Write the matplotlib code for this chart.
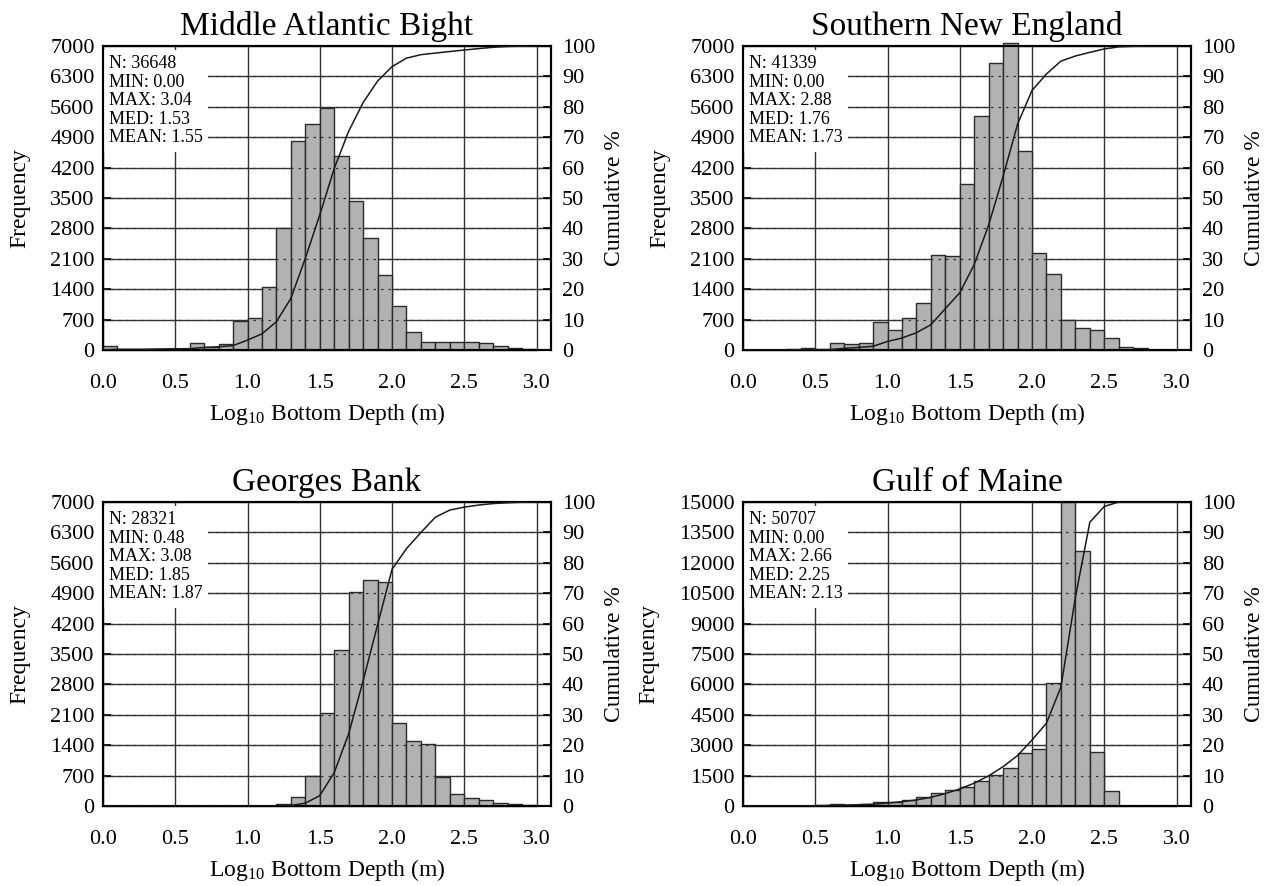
import numpy as np
import matplotlib
matplotlib.use('Agg')
import matplotlib.pyplot as plt

plt.rcParams['font.family'] = 'serif'
plt.rcParams['font.serif'] = ['Liberation Serif', 'DejaVu Serif']
plt.rcParams['mathtext.fontset'] = 'custom'
plt.rcParams['mathtext.rm'] = 'Liberation Serif'
plt.rcParams['mathtext.it'] = 'Liberation Serif:italic'

# bin left edges (log10 bottom depth), width 0.1
bin_starts = [0.0, 0.1, 0.2, 0.3, 0.4, 0.5, 0.6, 0.7, 0.8, 0.9,
              1.0, 1.1, 1.2, 1.3, 1.4, 1.5, 1.6, 1.7, 1.8, 1.9,
              2.0, 2.1, 2.2, 2.3, 2.4, 2.5, 2.6, 2.7, 2.8, 2.9]
bin_width = 0.1

# counts
mab_counts = [90, 0, 0, 30, 30, 10, 150, 75, 140, 670,
              745, 1460, 2800, 4820, 5215, 5575, 4475, 3440, 2590, 1730,
              1020, 420, 190, 190, 175, 175, 155, 100, 40, 15]
sne_counts = [10, 0, 0, 15, 40, 0, 155, 130, 155, 655,
              460, 730, 1075, 2190, 2155, 3830, 5385, 6600, 7075, 4575,
              2230, 1745, 690, 500, 460, 285, 75, 40, 0, 0]
gb_counts = [0, 0, 0, 0, 0, 0, 0, 0, 0, 0,
             0, 10, 40, 215, 700, 2140, 3600, 4930, 5200, 5160,
             1920, 1500, 1420, 660, 275, 190, 140, 75, 55, 15]
gom_counts = [10, 0, 0, 10, 20, 40, 80, 50, 80, 215,
              215, 300, 430, 625, 790, 955, 1235, 1530, 1860, 2600,
              2820, 6065, 15000, 12575, 2640, 740, 0, 0, 0, 0]

titles = ['Middle Atlantic Bight', 'Southern New England', 'Georges Bank', 'Gulf of Maine']
stats = ['N: 36648\nMIN: 0.00\nMAX: 3.04\nMED: 1.53\nMEAN: 1.55',
         'N: 41339\nMIN: 0.00\nMAX: 2.88\nMED: 1.76\nMEAN: 1.73',
         'N: 28321\nMIN: 0.48\nMAX: 3.08\nMED: 1.85\nMEAN: 1.87',
         'N: 50707\nMIN: 0.00\nMAX: 2.66\nMED: 2.25\nMEAN: 2.13']
freq_ticks = [list(range(0, 7001, 700)), list(range(0, 7001, 700)),
              list(range(0, 7001, 700)), list(range(0, 15001, 1500))]
cum_ticks = list(range(0, 101, 10))
x_ticks = [0.0, 0.5, 1.0, 1.5, 2.0, 2.5, 3.0]
all_counts = [mab_counts, sne_counts, gb_counts, gom_counts]

W, H = 1272, 886
fig = plt.figure(figsize=(W / 100, H / 100), dpi=100)

# panel boxes in pixels: left, top
boxes = [(103, 46), (743, 46), (103, 502), (743, 502)]
pw, ph = 448, 304

for i in range(4):
    left, top = boxes[i]
    ax = fig.add_axes([left / W, (H - top - ph) / H, pw / W, ph / H])
    counts = np.array(all_counts[i])
    ymax = freq_ticks[i][-1]

    ax.bar(bin_starts, counts, width=bin_width, align='edge', color='#b2b2b2',
           edgecolor='#2a2a2a', linewidth=1.0, zorder=2, clip_on=False)

    ax.set_xlim(0, 3.1)
    ax.set_ylim(0, ymax)
    ax.set_xticks(x_ticks)
    ax.set_xticklabels([f'{t:.1f}' for t in x_ticks])
    ax.set_yticks(freq_ticks[i])
    ax.set_axisbelow(True)
    ax.grid(True, color='#333333', linewidth=1.0)
    # grid showing through the bars as dotted lines
    for t in freq_ticks[i][1:-1]:
        ax.axhline(t, color='#333333', linewidth=0.9, linestyle=(0, (2, 4)), zorder=2.5)

    ax.tick_params(axis='y', direction='in', length=6, labelsize=16, pad=6, width=1.2)
    ax.tick_params(axis='x', direction='in', length=0, labelsize=16, pad=17)
    for sp in ax.spines.values():
        sp.set_linewidth(1.5)
        sp.set_zorder(6)

    ax.set_title(titles[i], fontsize=24, pad=8)
    ax.set_xlabel('Log$_{10}$ Bottom Depth (m)', fontsize=17, labelpad=6)
    ax.set_ylabel('Frequency', fontsize=17, labelpad=14)

    ax.text(0.013, 0.97, stats[i], transform=ax.transAxes, ha='left', va='top',
            fontsize=13, linespacing=1.12, zorder=5,
            bbox=dict(facecolor='white', edgecolor='none', pad=4))

    # cumulative percent on the right axis
    ax2 = ax.twinx()
    edges = np.array(bin_starts + [bin_starts[-1] + bin_width])
    cum = np.concatenate([[0], np.cumsum(counts)]) / counts.sum() * 100
    ax2.plot(edges, cum, color='#1a1a1a', linewidth=1.1, zorder=3)
    ax2.set_ylim(0, 100)
    ax2.set_xlim(0, 3.1)
    ax2.set_yticks(cum_ticks)
    ax2.tick_params(axis='y', direction='in', length=6, labelsize=16, pad=8, width=1.2)
    ax2.set_ylabel('Cumulative %', fontsize=17, labelpad=6)
    for sp in ax2.spines.values():
        sp.set_linewidth(1.5)

fig.savefig('out.png', dpi=100)
